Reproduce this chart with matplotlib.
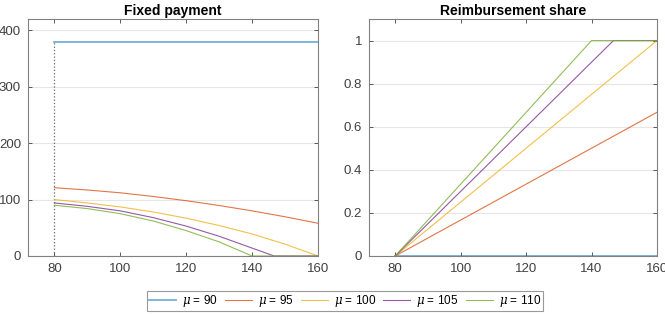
import numpy as np
import matplotlib.pyplot as plt

plt.rcParams['font.family'] = ['Liberation Sans', 'DejaVu Sans']
plt.rcParams['mathtext.fontset'] = 'dejavuserif'

# data
mus = [90, 95, 100, 105, 110]
colors = ['#0072BD', '#D95319', '#EDB120', '#7E2F8E', '#77AC30']

x_grid = [80, 90, 100, 110, 120, 130, 140, 150, 160]

fix_x = [
    [80, 160],
    x_grid,
    x_grid,
    [80, 90, 100, 110, 120, 130, 140, 146.7, 160],
    [80, 90, 100, 110, 120, 130, 140, 160],
]
fix_y = [
    [380, 380],
    [121, 117, 112, 105.5, 98, 89.5, 80, 69.5, 58],
    [100, 94, 87, 78, 67, 54, 39, 21, 0],
    [94, 88, 80, 68, 53, 35, 14, 0, 0],
    [90, 84, 75, 62, 45, 25, 0, 0],
]

share_x = [
    [80, 160],
    [80, 160],
    [80, 160],
    [80, 146.7, 160],
    [80, 140, 160],
]
share_y = [
    [0, 0],
    [0, 0.667],
    [0, 1],
    [0, 1, 1],
    [0, 1, 1],
]

fig = plt.figure(figsize=(6.65, 3.14), dpi=100)
ax1 = fig.add_axes([28/665, 1-256/314, 290/665, 237/314])
ax2 = fig.add_axes([369/665, 1-256/314, 288/665, 237/314])

ax1.plot([80, 80], [0, 380], linestyle=':', color='#666666', lw=0.9)
lines = []
for i, mu in enumerate(mus):
    lw = 1.3 if i == 0 else 0.8
    alpha = 0.55 if i == 0 else 0.8
    l, = ax1.plot(fix_x[i], fix_y[i], color=colors[i], lw=lw, alpha=alpha,
                  label=r'$\mu$ = %d' % mu)
    lines.append(l)
    ax2.plot(share_x[i], share_y[i], color=colors[i], lw=lw, alpha=alpha)

ax1.set_xlim(72, 160)
ax1.set_ylim(0, 420)
ax1.set_xticks([80, 100, 120, 140, 160])
ax1.set_yticks([0, 100, 200, 300, 400])
ax1.set_title('Fixed payment', fontsize=10, fontweight='bold', pad=3)

ax2.set_xlim(72, 160)
ax2.set_ylim(0, 1.1)
ax2.set_xticks([80, 100, 120, 140, 160])
ax2.set_yticks([0, 0.2, 0.4, 0.6, 0.8, 1])
ax2.set_yticklabels(['0', '0.2', '0.4', '0.6', '0.8', '1'])
ax2.set_title('Reimbursement share', fontsize=10, fontweight='bold', pad=3)

for ax in (ax1, ax2):
    ax.grid(True, axis='y', color='#e6e6e6', lw=0.8)
    ax.set_axisbelow(True)
    ax.tick_params(direction='in', top=True, right=True, length=3,
                   labelsize=9.5, colors='#404040', width=0.6, pad=5)
    for s in ax.spines.values():
        s.set_color('#808080')
        s.set_linewidth(0.8)

leg = fig.legend(handles=lines, loc='center', bbox_to_anchor=(345/665, 1-301/314),
                 ncol=5, fontsize=8.5, frameon=True, fancybox=False,
                 handlelength=2.3, handletextpad=0.5, columnspacing=0.6,
                 borderpad=0.2)
leg.get_frame().set_edgecolor('#808080')
leg.get_frame().set_linewidth(0.8)

fig.savefig('out.png', dpi=100)
